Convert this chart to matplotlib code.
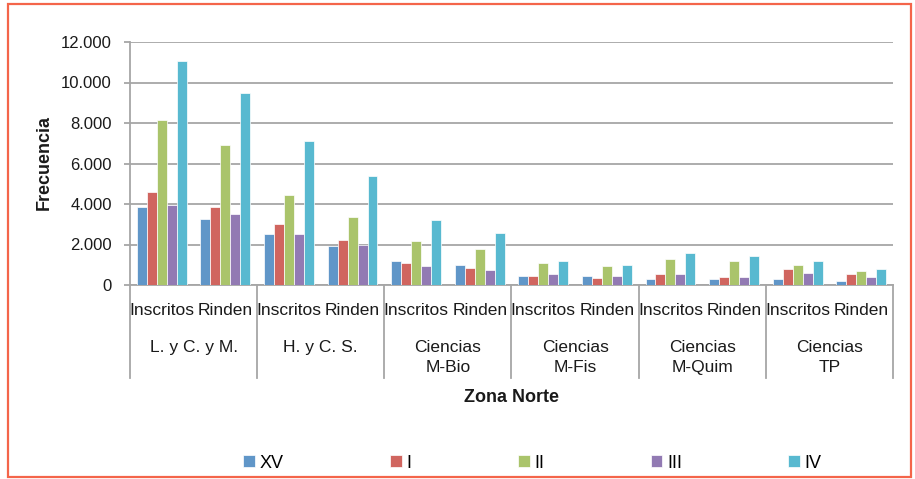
import numpy as np
import matplotlib.pyplot as plt
from matplotlib.patches import Rectangle
from matplotlib.ticker import FuncFormatter

# datos
grupos = ['L. y C. y M.', 'H. y C. S.', 'Ciencias\nM-Bio', 'Ciencias\nM-Fis',
          'Ciencias\nM-Quim', 'Ciencias\nTP']
tipos = ['Inscritos', 'Rinden']
regiones = ['XV', 'I', 'II', 'III', 'IV']

# orden: por grupo -> Inscritos, Rinden
XV = [3830, 3270, 2510, 1950, 1200, 1000, 430, 430, 310, 310, 310, 210]
I = [4600, 3850, 3010, 2230, 1100, 830, 430, 330, 520, 410, 790, 520]
II = [8130, 6890, 4430, 3370, 2150, 1780, 1100, 920, 1290, 1190, 1000, 710]
III = [3950, 3490, 2510, 1970, 920, 730, 530, 430, 520, 410, 600, 410]
IV = [11070, 9470, 7090, 5370, 3220, 2550, 1200, 1000, 1600, 1410, 1190, 790]

colores = ['#6096C8', '#D0655F', '#AAC46B', '#927AB3', '#58B9D0']

narrow = ['Liberation Sans Narrow', 'Liberation Sans', 'DejaVu Sans']
plt.rcParams['font.family'] = narrow

fig = plt.figure(figsize=(9.15, 4.79), dpi=100)
ax = fig.add_axes([130/915, 1-285/479, (893-130)/915, (285-42)/479])

x = np.arange(len(XV))
w = 0.157
series = [XV, I, II, III, IV]
for k, (vals, nom, c) in enumerate(zip(series, regiones, colores)):
    ax.bar(x + (k-2)*w, vals, width=w, color=c, label=nom,
           edgecolor='white', linewidth=0.5, zorder=3)

gris = '#A6A6A6'
ax.set_xlim(-0.5, len(XV)-0.5)
ax.set_ylim(0, 12000)
ax.set_yticks(np.arange(0, 12001, 2000))
ax.yaxis.set_major_formatter(FuncFormatter(lambda v, p: '{:,.0f}'.format(v).replace(',', '.')))
ax.grid(axis='y', color=gris, linewidth=1.3, zorder=0)
ax.set_axisbelow(True)
for s in ['top', 'right']:
    ax.spines[s].set_visible(False)
ax.spines['left'].set_color(gris)
ax.spines['bottom'].set_color(gris)
ax.spines['left'].set_linewidth(1.3)
ax.spines['bottom'].set_linewidth(1.3)
ax.set_xticks([])
ax.tick_params(axis='y', length=4, color=gris, width=1.3, pad=9)
for t in ax.get_yticklabels():
    t.set_fontfamily(['Liberation Sans', 'DejaVu Sans'])
    t.set_fontsize(12)
    t.set_color('#1a1a1a')

# eje de categorias de dos niveles
tr = ax.get_xaxis_transform()
for b in np.arange(-0.5, len(XV), 2):
    ax.plot([b, b], [0, -0.383], transform=tr, color=gris, lw=1.3, clip_on=False)
for i in x:
    ax.text(i, -0.103, tipos[i % 2], transform=tr, ha='center', va='center',
            fontsize=12.5, color='#1a1a1a')
for g, nom in enumerate(grupos):
    ax.text(2*g + 0.5, -0.226, nom, transform=tr, ha='center', va='top',
            fontsize=12.5, color='#1a1a1a', linespacing=1.45)

fig.text(512/915, 1-397/479, 'Zona Norte', ha='center', va='center',
         fontsize=13, fontweight='bold', color='#1a1a1a')
fig.text(44/915, 1-163/479, 'Frecuencia', ha='center', va='center',
         rotation=90, fontsize=13, fontweight='bold', color='#1a1a1a')

fig.legend(loc='center', bbox_to_anchor=(0.582, 1-463/479), ncol=5,
           frameon=False, fontsize=13, handlelength=0.65, handleheight=0.65,
           handletextpad=0.25, columnspacing=5.9)

fig.patches.append(Rectangle((8/915, 2/479), 903/915, 473/479, transform=fig.transFigure,
                             fill=False, edgecolor='#F4654A', linewidth=1.6))

fig.savefig('out.png', dpi=100)
